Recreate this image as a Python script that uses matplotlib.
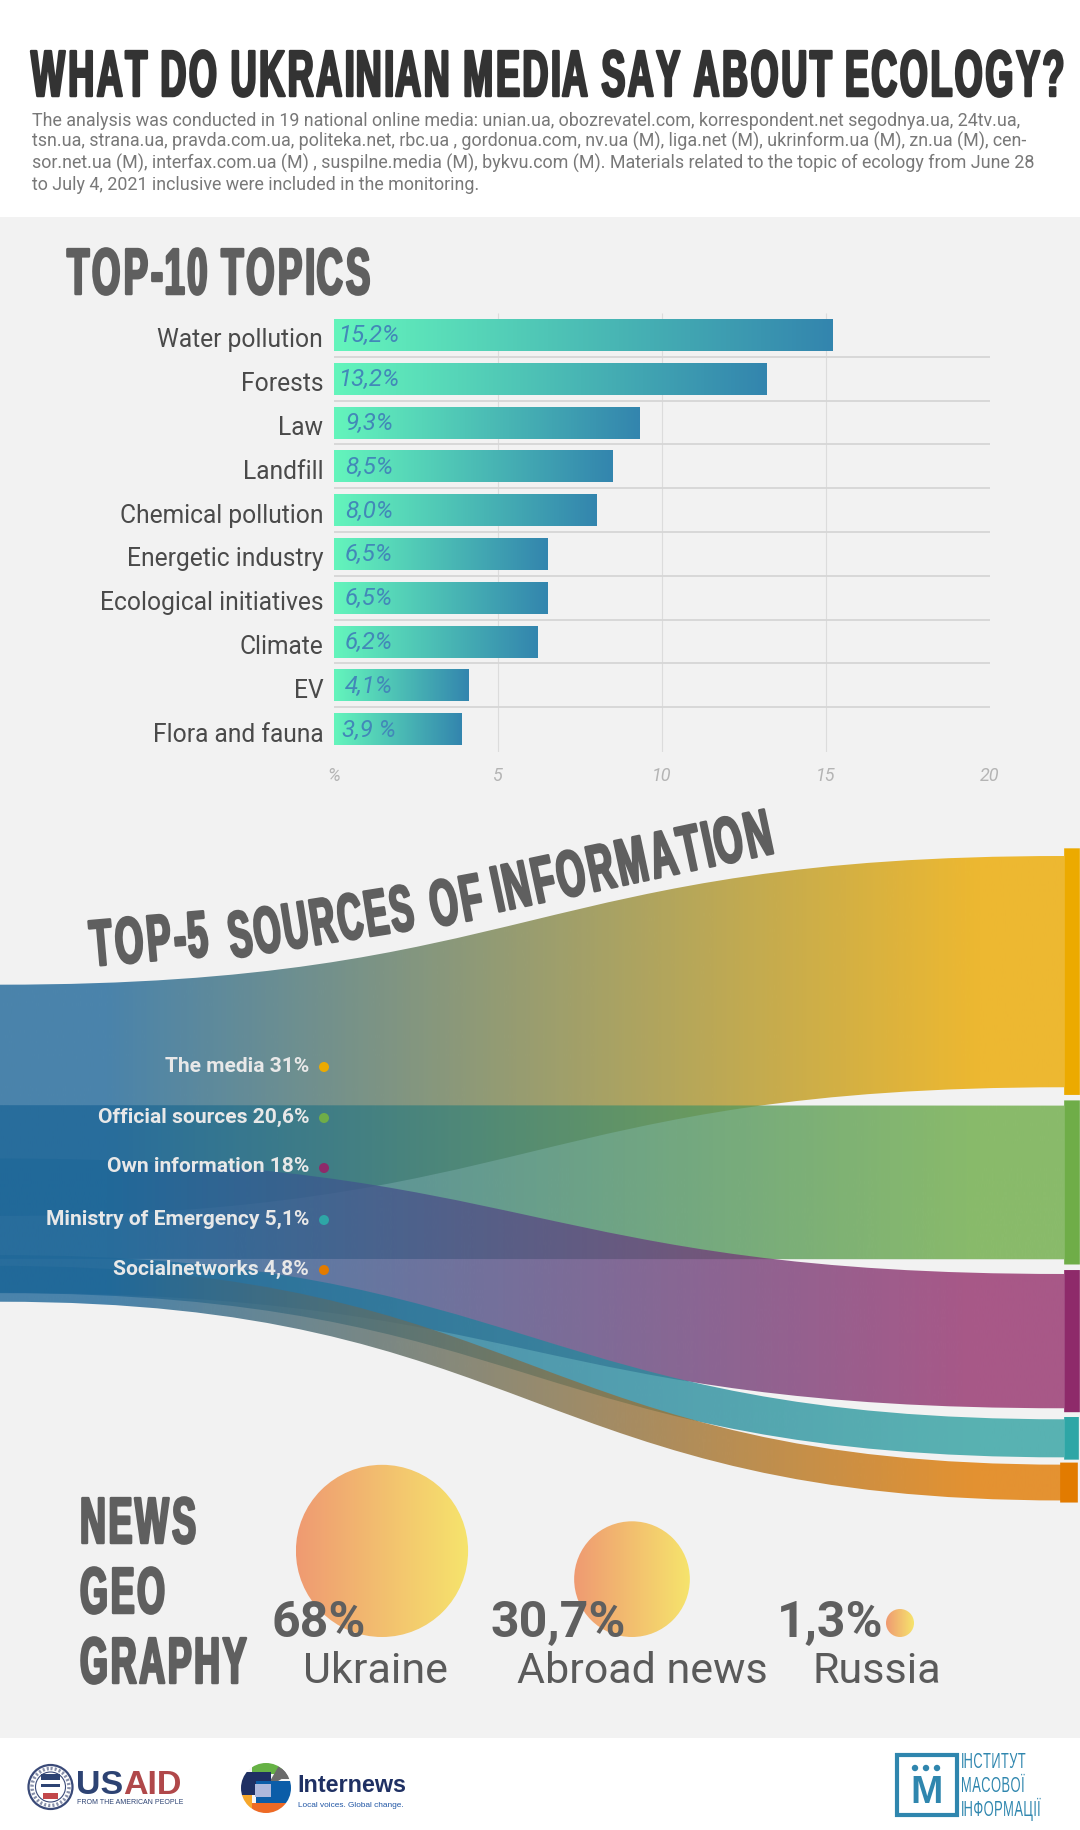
import os
import tempfile

import numpy as np
import matplotlib
matplotlib.use('Agg')
import matplotlib.pyplot as plt
import matplotlib.patheffects as pe
from matplotlib import font_manager as fm
from matplotlib.colors import LinearSegmentedColormap, to_rgb
from matplotlib.patches import Circle, Rectangle, PathPatch, Wedge, FancyBboxPatch
from matplotlib.path import Path
from matplotlib.transforms import ScaledTranslation
from fontTools.ttLib import TTFont

# top-10 topics
topics = ['Water pollution', 'Forests', 'Law', 'Landfill', 'Chemical pollution',
          'Energetic industry', 'Ecological initiatives', 'Climate', 'EV', 'Flora and fauna']
topic_values = [15.2, 13.2, 9.3, 8.5, 8.0, 6.5, 6.5, 6.2, 4.1, 3.9]
topic_labels = ['15,2%', '13,2%', '9,3%', '8,5%', '8,0%', '6,5%', '6,5%', '6,2%', '4,1%', '3,9 %']
x_ticks = [0, 5, 10, 15, 20]
x_tick_labels = ['%', '5', '10', '15', '20']

# top-5 sources
sources = ['The media 31%', 'Official sources 20,6%', 'Own information 18%',
           'Ministry of Emergency 5,1%', 'Socialnetworks 4,8%']
source_values = [31, 20.6, 18, 5.1, 4.8]
source_colors = ['#ECAA00', '#6FAD48', '#96316D', '#32A2A2', '#E17A00']
node_colors = ['#ECAA00', '#6FAD48', '#8E2A6A', '#2EA6A6', '#E27B00']

# news geography
geo_names = ['Ukraine', 'Abroad news', 'Russia']
geo_values = [68, 30.7, 1.3]
geo_labels = ['68%', '30,7%', '1,3%']

intro = ['The analysis was conducted in 19 national online media: unian.ua, obozrevatel.com, korrespondent.net segodnya.ua, 24tv.ua,',
         'tsn.ua, strana.ua, pravda.com.ua, politeka.net, rbc.ua , gordonua.com, nv.ua (M), liga.net (M), ukrinform.ua (M), zn.ua (M), cen-',
         'sor.net.ua (M), interfax.com.ua (M) , suspilne.media (M), bykvu.com (M). Materials related to the topic of ecology from June 28',
         'to July 4, 2021 inclusive were included in the monitoring.']

W, H = 1080, 1830
GREY = '#F2F2F2'
HEAD = '#5F5F5F'


def condensed(weight, factor, advance, tag):
    # no condensed headline face is installed, so squeeze Liberation Sans
    src = fm.findfont(fm.FontProperties(family='Liberation Sans', weight=weight))
    font = TTFont(src)
    glyf = font['glyf']
    for name in glyf.keys():
        g = glyf[name]
        if g.isComposite():
            for c in g.components:
                c.x = int(round(c.x * factor))
        elif g.numberOfContours > 0:
            g.coordinates.scale((factor, 1))
            g.coordinates.toInt()
        g.removeHinting()
        g.recalcBounds(glyf)
    hmtx = font['hmtx']
    for name in hmtx.metrics:
        adv, lsb = hmtx.metrics[name]
        hmtx.metrics[name] = (int(round(adv * advance)), int(round(lsb * factor)))
    for t in ['kern', 'GPOS', 'fpgm', 'prep', 'cvt ', 'hdmx', 'VDMX', 'LTSH']:
        if t in font:
            del font[t]
    path = os.path.join(tempfile.mkdtemp(), tag + '.ttf')
    font.save(path)
    return path


cond_bold = condensed('bold', 0.55, 0.605, 'cond_bold')
cond_wide = condensed('bold', 0.56, 0.625, 'cond_wide')
cond_tight = condensed('bold', 0.53, 0.585, 'cond_tight')
cond_reg = condensed('normal', 0.60, 0.63, 'cond_reg')


def headline(ax, x, y, s, size=47, color=HEAD, rot=0, fname=cond_bold):
    ax.text(x, y, s, fontproperties=fm.FontProperties(fname=fname, size=size), color=color,
            ha='left', va='baseline', rotation=rot, rotation_mode='anchor',
            path_effects=[pe.withStroke(linewidth=1.8, foreground=color)], zorder=10)


def axes_px(left, top, right, bottom, **kw):
    return fig.add_axes([left / W, 1 - bottom / H, (right - left) / W, (bottom - top) / H], **kw)


plt.rcParams['font.family'] = ['Roboto', 'DejaVu Sans']
fig = plt.figure(figsize=(W / 100, H / 100), dpi=100, facecolor='white')

bg = axes_px(0, 0, W, H, zorder=0)
bg.set_xlim(0, W)
bg.set_ylim(H, 0)
bg.axis('off')
bg.add_patch(Rectangle((0, 217), W, 1738 - 217, color=GREY, lw=0))

# ---- bars
ax = axes_px(334, 313, 990, 752, zorder=1)
ax.patch.set_alpha(0)
ypos = np.arange(len(topics))
bar_cmap = LinearSegmentedColormap.from_list('bars', ['#64F5BC', '#3385AE'])
bars = ax.barh(ypos, topic_values, height=0.73, color='#64F5BC', zorder=3)
for b, v, y in zip(bars, topic_values, ypos):
    im = ax.imshow(np.linspace(0, 1, 256).reshape(1, -1), cmap=bar_cmap, aspect='auto',
                   extent=(0, v, y + 0.365, y - 0.365), zorder=3.5)
    im.set_clip_path(b)
ax.set_xlim(0, 20)
ax.set_ylim(9.52, -0.5)
for s in ax.spines.values():
    s.set_visible(False)
ax.hlines(ypos[:-1] + 0.5, 0, 20, color='#D6D6D6', lw=1.3, zorder=2)
ax.vlines(x_ticks[1:-1], -0.5, 9.52, color='#DCDCDC', lw=0.8, zorder=1)
ax.set_yticks(ypos)
ax.set_yticklabels(topics, fontsize=17.7, color='#4A4A4A')
ax.tick_params(axis='y', length=0, pad=7.8)
for lab in ax.get_yticklabels():
    lab.set_transform(lab.get_transform() + ScaledTranslation(0, -0.03, fig.dpi_scale_trans))
ax.set_xticks(x_ticks)
ax.set_xticklabels(x_tick_labels, fontsize=13, color='#B4B4B4', style='italic')
ax.tick_params(axis='x', length=0, pad=10.5)
for y, s in zip(ypos, topic_labels):
    ax.annotate(s, (0, y), xytext=(35, -1), textcoords='offset pixels', ha='center', va='center',
                fontsize=17.4, style='italic', color='#4288B8', zorder=5)

# ---- sankey, y axis in percent points
PX_PER_PCT = 7.46
left_offset = [17.25, 33.4, 40.55, 53.5, 54.95]
right_gaps = [2.46, 1.97, 1.48, 0.98]
node_over = [1.05, 0.72, 0.55, 0.33, 0.3]
node_left = [1064, 1064, 1064, 1064, 1060]
node_right = [1080, 1080, 1080, 1079, 1078]
y0 = 856
san = axes_px(0, 840, W, 1520, zorder=1)
san.patch.set_alpha(0)
ymin_s = (840 - y0) / PX_PER_PCT
ymax_s = (1520 - y0) / PX_PER_PCT

right_top = np.concatenate([[0], np.cumsum(np.array(source_values[:-1]) + np.array(right_gaps))])
mid = 532
end = 1064
left_rgb = np.array(to_rgb('#206899'))
tt = np.clip((np.linspace(0, 1, 512) - 0.10) / 0.82, 0, 1)
for i, (v, l, r, c) in enumerate(zip(source_values, left_offset, right_top, source_colors)):
    verts = [(0, l), (mid, l), (mid, r), (end, r), (end, r + v), (mid, r + v), (mid, l + v), (0, l + v), (0, l)]
    codes = [Path.MOVETO, Path.CURVE4, Path.CURVE4, Path.CURVE4, Path.LINETO,
             Path.CURVE4, Path.CURVE4, Path.CURVE4, Path.CLOSEPOLY]
    band = PathPatch(Path(verts, codes), fc='none', ec='none', transform=san.transData)
    san.add_patch(band)
    rgba = np.ones((1, 512, 4))
    rgba[0, :, :3] = np.outer(1 - tt, left_rgb) + np.outer(tt, to_rgb(c))
    rgba[0, :, 3] = 0.8
    im = san.imshow(rgba, aspect='auto', extent=(0, end, ymax_s, ymin_s), zorder=2 + i * 0.1)
    im.set_clip_path(band)
for v, r, o, a, b, c in zip(source_values, right_top, node_over, node_left, node_right, node_colors):
    san.add_patch(FancyBboxPatch((a + 1, r - o + 1 / PX_PER_PCT), b - a - 2, v + 2 * o - 2 / PX_PER_PCT,
                                 boxstyle='round,pad=0', fc=c, ec=c, lw=1.2, zorder=4))
san.set_xlim(0, W)
san.set_ylim(ymax_s, ymin_s)
san.axis('off')

# ---- everything written on top
top = axes_px(0, 0, W, H, zorder=5)
top.patch.set_alpha(0)
top.set_xlim(0, W)
top.set_ylim(H, 0)
top.axis('off')

headline(top, 31, 96, 'WHAT DO UKRAINIAN MEDIA SAY ABOUT ECOLOGY?', color='#333333')
for i, line in enumerate(intro):
    top.text(32, 125.5 + i * 21.6, line, fontsize=12.85, color='#787878', va='baseline')
headline(top, 67, 294, 'TOP-10 TOPICS', fname=cond_wide)

headline(top, 92, 966, 'TOP-5', rot=5, fname=cond_wide)
headline(top, 232, 958, 'SOURCES', rot=9, fname=cond_tight)
headline(top, 434, 927, 'OF', rot=10.5)
headline(top, 497, 912, 'INFORMATION', rot=12, fname=cond_wide)

source_y = [1066, 1117, 1167, 1219, 1269]
for s, y, c in zip(sources, source_y, node_colors):
    top.text(309, y, s, ha='right', va='center', fontsize=15.1, fontweight='bold', color='#E8E8E8')
    top.add_patch(Circle((324, y + 1), 5, fc=c, ec='none'))

# ---- geography
headline(top, 80, 1543, 'NEWS')
headline(top, 80, 1613, 'GEO')
headline(top, 80, 1683, 'GRAPHY')
geo_cmap = LinearSegmentedColormap.from_list('geo', ['#EF9A72', '#F6E46C'])
geo_x = [382, 632, 900]
base = 1637
for v, cx in zip(geo_values, geo_x):
    r = max(10.44 * np.sqrt(v), 14)
    cir = Circle((cx, base - r), r, fc='none', ec='none', transform=top.transData)
    top.add_patch(cir)
    im = top.imshow(np.linspace(0, 1, 256).reshape(1, -1), cmap=geo_cmap, aspect='auto',
                    extent=(cx - r, cx + r, base, base - 2 * r), zorder=2)
    im.set_clip_path(cir)
top.set_xlim(0, W)
top.set_ylim(H, 0)
for s, x in zip(geo_labels, [271, 491, 777]):
    top.text(x, base, s, fontsize=36, fontweight='bold', color='#5F5F5F', ha='left', va='baseline', zorder=5)
for s, x in zip(geo_names, [375, 642, 877]):
    top.text(x, 1683, s, fontsize=31, color='#5A5A5A', ha='center', va='baseline', zorder=5)

# ---- footer logos
NAVY = '#2D4373'
top.add_patch(Circle((50.5, 1787), 22, fc='white', ec='#3A4A78', lw=1.6))
top.add_patch(Circle((50.5, 1787), 15, fc='white', ec='#3A4A78', lw=0.8))
top.add_patch(Circle((50.5, 1787), 18.5, fc='none', ec='#8890AA', lw=2.5, ls=(0, (0.6, 0.6))))
top.add_patch(Rectangle((41, 1774), 19, 6, fc=NAVY, lw=0))
top.add_patch(Rectangle((41, 1784), 19, 3, fc=NAVY, lw=0))
top.add_patch(Rectangle((43, 1793), 15, 6, fc='#C2474A', lw=0))
top.text(76, 1794, 'US', fontfamily='Liberation Sans', fontweight='bold', fontsize=24.5, color=NAVY, va='baseline')
top.text(123, 1794, 'AID', fontfamily='Liberation Sans', fontweight='bold', fontsize=24.5, color='#B0484A', va='baseline')
top.text(77, 1804.5, 'FROM THE AMERICAN PEOPLE', fontfamily='Liberation Sans', fontsize=5.0, color=NAVY, va='baseline')

logo = Circle((266, 1788), 25, fc='#F6F6F6', ec='none', transform=top.transData)
top.add_patch(logo)
pieces = [(Rectangle((252, 1762), 30, 12, fc='#66B245', lw=0)),
          (Wedge((266, 1788), 25, -60, -30, fc='#6B6B6B', lw=0)),
          (Rectangle((282, 1766), 10, 13, fc='#6B6B6B', lw=0)),
          (Rectangle((241, 1772), 30, 23, fc='#1F3063', lw=0)),
          (Rectangle((256, 1781), 36, 22, fc='#0B5DA8', lw=0)),
          (Rectangle((252, 1803), 40, 12, fc='#EE6A25', lw=0)),
          (Rectangle((241, 1795), 11, 18, fc='#F6A72B', lw=0)),
          (Rectangle((255, 1784), 16, 13, fc='#AEB8DC', lw=0))]
for p in pieces:
    top.add_patch(p)
    p.set_clip_path(logo)
top.text(297, 1792.5, 'Internews', fontfamily='Liberation Sans', fontweight='bold', fontsize=16.8, color='#1F3063', va='baseline')
top.text(298, 1807, 'Local voices. Global change.', fontfamily='Liberation Sans', fontsize=5.95, color='#2257A5', va='baseline')

IMI = '#2F86AE'
top.add_patch(Rectangle((897, 1755), 60, 60, fc='none', ec=IMI, lw=3))
for dx in [915, 926, 937]:
    top.add_patch(Circle((dx, 1768), 3.2, fc=IMI, ec='none'))
top.text(926.5, 1803, 'М', fontfamily='Liberation Sans', fontweight='bold', fontsize=28, color=IMI, ha='center', va='baseline')
for s, y in zip(['ІНСТИТУТ', 'МАСОВОЇ', 'ІНФОРМАЦІЇ'], [1768, 1792, 1816]):
    top.text(961, y, s, fontproperties=fm.FontProperties(fname=cond_reg, size=15.5), color=IMI, va='baseline')

fig.savefig('out.png', dpi=100, facecolor='white')
